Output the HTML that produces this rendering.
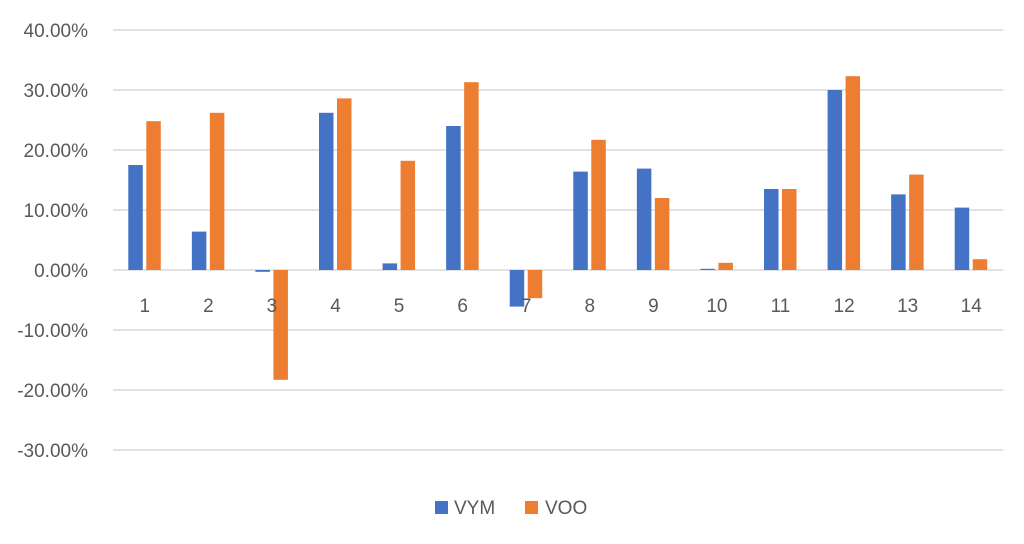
<!DOCTYPE html>
<html><head><meta charset="utf-8"><style>
html,body{margin:0;padding:0;background:#fff;}
svg text{font-family:"Liberation Sans",sans-serif;fill:#595959;}
</style></head><body>
<svg id="chart" width="1024" height="539" xmlns="http://www.w3.org/2000/svg">
<g id="grid"></g><g id="bars"></g><g id="labels"></g>
<g>
<rect x="435" y="501" width="13" height="13" fill="#4472C4"/>
<text x="454" y="514" font-size="19">VYM</text>
<rect x="525" y="501" width="13" height="13" fill="#ED7D31"/>
<text x="545" y="514" font-size="19">VOO</text>
</g>
</svg>
<script>
const categories = ["1","2","3","4","5","6","7","8","9","10","11","12","13","14"];
const vym = [17.5,6.4,-0.3,26.2,1.1,24.0,-6.1,16.4,16.9,0.2,13.5,30.0,12.6,10.4];
const voo = [24.8,26.2,-18.3,28.6,18.2,31.3,-4.7,21.7,12.0,1.2,13.5,32.3,15.9,1.8];
const yTicks = [40,30,20,10,0,-10,-20,-30];
const ns="http://www.w3.org/2000/svg";
const left=113,right=1003,zeroY=270,pxPer=6.0;
const y=v=>zeroY-v*pxPer;
const catW=(right-left)/categories.length;
const cx=i=>left+catW*(i+0.5);
const grid=document.getElementById('grid'),bars=document.getElementById('bars'),labels=document.getElementById('labels');
function mk(t,a){const e=document.createElementNS(ns,t);for(const k in a)e.setAttribute(k,a[k]);return e;}
yTicks.forEach(t=>{
  const l=mk('line',{x1:left,x2:right,y1:y(t),y2:y(t),stroke:'#d9d9d9','stroke-width':1.5});
  
  
  grid.appendChild(l);
  const tx=mk('text',{x:88,y:y(t)+7,'text-anchor':'end','font-size':19});
  
  
  tx.textContent=t.toFixed(2)+'%';
  labels.appendChild(tx);
});
const bw=14.5;
categories.forEach((c,i)=>{
  [[vym,'#4472C4',-16.5,'bar-vym'],[voo,'#ED7D31',1.5,'bar-voo']].forEach(([arr,col,off,nm])=>{
    const v=arr[i];
    const r=mk('rect',{x:cx(i)+off,y:Math.min(y(v),zeroY),width:bw,height:Math.abs(y(v)-zeroY),fill:col});
    
    
    bars.appendChild(r);
  });
  const tx=mk('text',{x:cx(i),y:312,'text-anchor':'middle','font-size':19});
  
  
  tx.textContent=c;
  labels.appendChild(tx);
});
</script>
</body></html>
